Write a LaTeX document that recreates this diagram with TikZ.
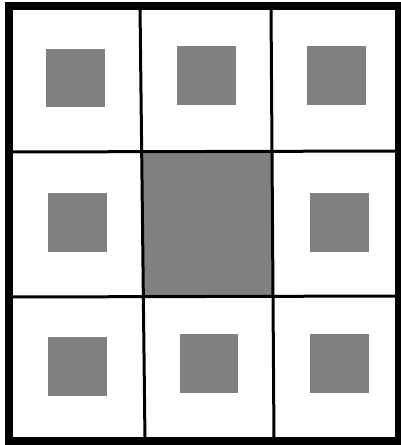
\documentclass[tikz,border=0pt]{standalone}
\usepackage{tikz}
\usepackage{xcolor}

\tikzset{
  tile/.style={fill=gray},
  gridline/.style={line width=3pt},
  frame/.style={line width=8pt}
}

\begin{document}
\begin{tikzpicture}[x=1pt, y=-1pt]
    \useasboundingbox (0,0) rectangle (400,445);
    % Small squares
    \fill[tile] (46,49) rectangle (105,107);
    \fill[tile] (177,46) rectangle (236,105);
    \fill[tile] (307,46) rectangle (366,105);
    \fill[tile] (48,193) rectangle (107,252);
    \fill[tile] (310,193) rectangle (369,252);
    \fill[tile] (48,337) rectangle (107,396);
    \fill[tile] (180,334) rectangle (238,393);
    \fill[tile] (310,334) rectangle (369,393);
    % Centre cell
    \fill[tile] (143,153) rectangle (273,296);
    % Grid lines
    \draw[gridline] (140,6) -- (145,441);
    \draw[gridline] (271,6) -- (274,441);
    \draw[gridline] (9,152) -- (399,151);
    \draw[gridline] (9,297) -- (399,296);
    % Border
    \draw[frame] (9,6) rectangle (399,441);
\end{tikzpicture}
\end{document}
